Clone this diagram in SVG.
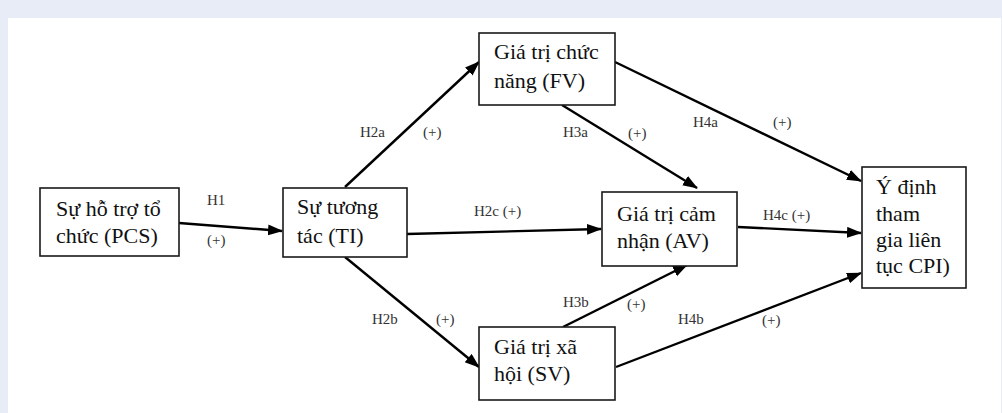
<svg xmlns="http://www.w3.org/2000/svg" width="1002" height="413" viewBox="0 0 1002 413">
<style>
.box{fill:#fff;stroke:#1a1a1a;stroke-width:1.6}
.t{font-family:"Liberation Serif","Times New Roman",serif;font-size:22px;fill:#111}
.l{font-family:"Liberation Serif","Times New Roman",serif;font-size:15px;fill:#333}
.c{fill:none;stroke:#000;stroke-width:2.4;marker-end:url(#ah)}
</style>
<defs>
<marker id="ah" markerUnits="userSpaceOnUse" markerWidth="16" markerHeight="12" refX="14" refY="5.5" orient="auto">
<path d="M0,0 L15,5.5 L0,11 z" fill="#000"/>
</marker>
</defs>
<rect x="0" y="0" width="1002" height="413" fill="#e8ecf6"/>
<rect x="8" y="18" width="993" height="395" fill="#fff"/>
<g id="connectors">
<path class="c" d="M179,223 L282,231"/>
<path class="c" d="M345,187 L479,62"/>
<path class="c" d="M345,257 L479,367"/>
<path class="c" d="M407,234 L601,229"/>
<path class="c" d="M562,105 L697,188"/>
<path class="c" d="M563,327 L687,265"/>
<path class="c" d="M615,62 L861,181"/>
<path class="c" d="M738,227 L861,233"/>
<path class="c" d="M616,367 L861,273"/>
<text class="l" x="207" y="205">H1</text>
<text class="l" x="207" y="245">(+)</text>
<text class="l" x="360" y="137">H2a</text>
<text class="l" x="423" y="137">(+)</text>
<text class="l" x="563" y="137">H3a</text>
<text class="l" x="628" y="138">(+)</text>
<text class="l" x="693" y="127">H4a</text>
<text class="l" x="773" y="127">(+)</text>
<text class="l" x="474" y="216">H2c (+)</text>
<text class="l" x="763" y="220">H4c (+)</text>
<text class="l" x="372" y="324">H2b</text>
<text class="l" x="436" y="324">(+)</text>
<text class="l" x="563" y="307">H3b</text>
<text class="l" x="627" y="309">(+)</text>
<text class="l" x="678" y="324">H4b</text>
<text class="l" x="762" y="325">(+)</text>
</g>
<g id="PCS">
<rect class="box" x="40" y="188" width="139" height="68"/>
<text class="t" x="56" y="216">Sự hỗ trợ tổ</text>
<text class="t" x="56" y="243">chức (PCS)</text>
</g>
<g id="TI">
<rect class="box" x="283" y="188" width="124" height="69"/>
<text class="t" x="297" y="214">Sự tương</text>
<text class="t" x="297" y="243">tác (TI)</text>
</g>
<g id="FV">
<rect class="box" x="479" y="33" width="136" height="72"/>
<text class="t" x="494" y="59">Giá trị chức</text>
<text class="t" x="494" y="88">năng (FV)</text>
</g>
<g id="AV">
<rect class="box" x="602" y="192" width="135" height="74"/>
<text class="t" x="617" y="221">Giá trị cảm</text>
<text class="t" x="617" y="248">nhận (AV)</text>
</g>
<g id="SV">
<rect class="box" x="479" y="327" width="136" height="73"/>
<text class="t" x="494" y="354">Giá trị xã</text>
<text class="t" x="494" y="381">hội (SV)</text>
</g>
<g id="CPI">
<rect class="box" x="862" y="167" width="104" height="121"/>
<text class="t" x="876" y="194">Ý định</text>
<text class="t" x="876" y="221">tham</text>
<text class="t" x="876" y="247">gia liên</text>
<text class="t" x="876" y="273">tục CPI)</text>
</g>
</svg>
